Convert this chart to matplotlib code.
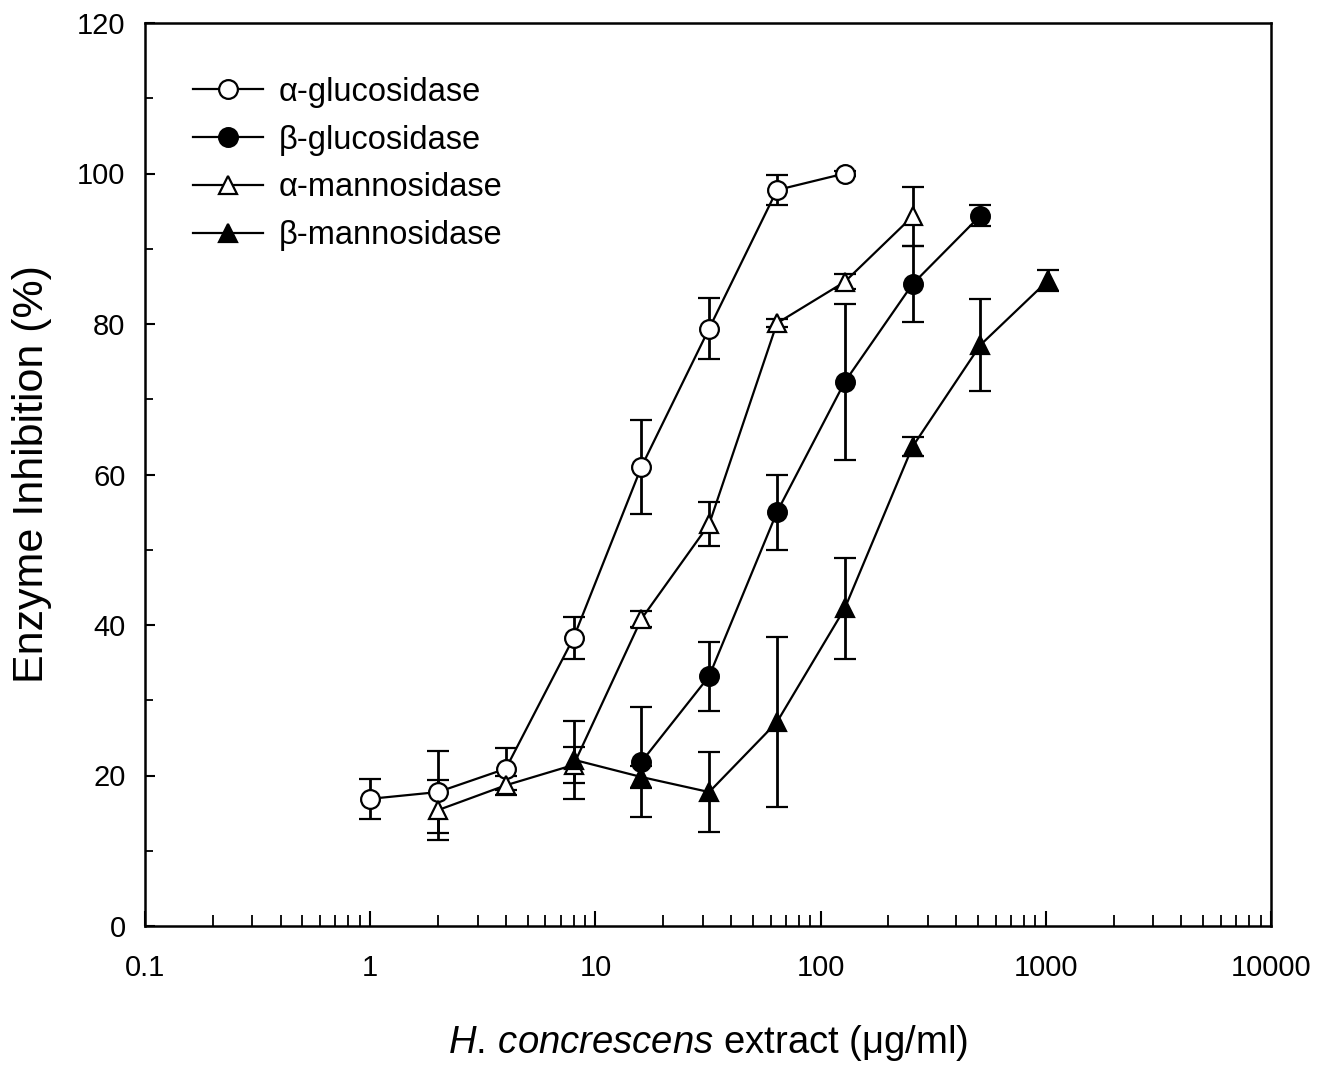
import matplotlib
matplotlib.use("Agg")
import matplotlib.pyplot as plt
from matplotlib.ticker import LogLocator, FixedLocator, NullFormatter

plt.rcParams['font.family'] = ['Liberation Sans', 'DejaVu Sans']
plt.rcParams['mathtext.fontset'] = 'custom'
plt.rcParams['mathtext.it'] = 'Liberation Sans:italic'
plt.rcParams['mathtext.rm'] = 'Liberation Sans'

# --- data ---
a_glu_x = [1, 2, 4, 8, 16, 32, 64, 128]
a_glu_y = [16.9, 17.8, 20.9, 38.3, 61.0, 79.4, 97.8, 100.0]
a_glu_e = [2.7, 5.4, 2.8, 2.8, 6.2, 4.0, 2.0, 0.3]

b_glu_x = [16, 32, 64, 128, 256, 512]
b_glu_y = [21.8, 33.2, 55.0, 72.3, 85.3, 94.4]
b_glu_e = [7.3, 4.6, 5.0, 10.4, 5.0, 1.4]

a_man_x = [2, 4, 8, 16, 32, 64, 128, 256]
a_man_y = [15.4, 18.7, 21.4, 40.8, 53.4, 80.1, 85.6, 94.3]
a_man_e = [4.0, 1.3, 2.4, 1.0, 2.9, 0.5, 1.0, 3.9]

b_man_x = [8, 16, 32, 64, 128, 256, 512, 1024]
b_man_y = [22.1, 19.8, 17.8, 27.1, 42.2, 63.7, 77.2, 85.8]
b_man_e = [5.2, 1.5, 5.3, 11.3, 6.7, 1.3, 6.1, 1.4]

labels = ['α-glucosidase', 'β-glucosidase', 'α-mannosidase', 'β-mannosidase']

x_ticks = [0.1, 1, 10, 100, 1000, 10000]
x_ticklabels = ['0.1', '1', '10', '100', '1000', '10000']
y_ticks = [0, 20, 40, 60, 80, 100, 120]

fig = plt.figure(figsize=(13.26, 10.65), dpi=100)
ax = fig.add_axes([145/1326, 1 - 926/1065, (1271-145)/1326, (926-23)/1065])

series = [
    (a_glu_x, a_glu_y, a_glu_e, 'o', 'white'),
    (b_glu_x, b_glu_y, b_glu_e, 'o', 'black'),
    (a_man_x, a_man_y, a_man_e, '^', 'white'),
    (b_man_x, b_man_y, b_man_e, '^', 'black'),
]
handles = []
for (x, y, e, m, fc), lab in zip(series, labels):
    c = ax.errorbar(x, y, yerr=e, color='black', marker=m, markersize=13.5,
                    markerfacecolor=fc, markeredgecolor='black', markeredgewidth=1.6,
                    linewidth=1.6, elinewidth=2.0, capsize=8, capthick=2.0,
                    label=lab)
    handles.append(c[0])

ax.set_xscale('log')
ax.set_xlim(0.1, 10000)
ax.set_ylim(0, 120)
ax.xaxis.set_major_locator(FixedLocator(x_ticks))
ax.set_xticklabels(x_ticklabels)
ax.xaxis.set_minor_locator(LogLocator(base=10, subs=range(2, 10), numticks=20))
ax.xaxis.set_minor_formatter(NullFormatter())
ax.yaxis.set_major_locator(FixedLocator(y_ticks))
ax.yaxis.set_minor_locator(FixedLocator([10, 30, 50, 70, 90, 110]))

ax.tick_params(axis='both', which='both', direction='in', top=False, right=False)
ax.tick_params(axis='both', which='major', width=1.5, labelsize=21)
ax.tick_params(axis='x', which='major', length=11, pad=20)
ax.tick_params(axis='x', which='minor', length=8, width=1.3)
ax.tick_params(axis='y', which='major', length=7, pad=14)
ax.tick_params(axis='y', which='minor', length=6, width=1.3)
for s in ax.spines.values():
    s.set_linewidth(1.8)

ax.set_ylabel('Enzyme Inhibition (%)', fontsize=31, labelpad=18)
ax.set_xlabel(r'$\mathit{H.\,concrescens}$ extract (μg/ml)', fontsize=27.5, labelpad=30)

leg = ax.legend(handles=handles, labels=labels, loc='upper left',
                bbox_to_anchor=(0.022, 0.966), frameon=False,
                fontsize=23.5, handlelength=2.15, handletextpad=0.5,
                labelspacing=0.52, borderaxespad=0.3)

fig.savefig('out.png', dpi=100)
